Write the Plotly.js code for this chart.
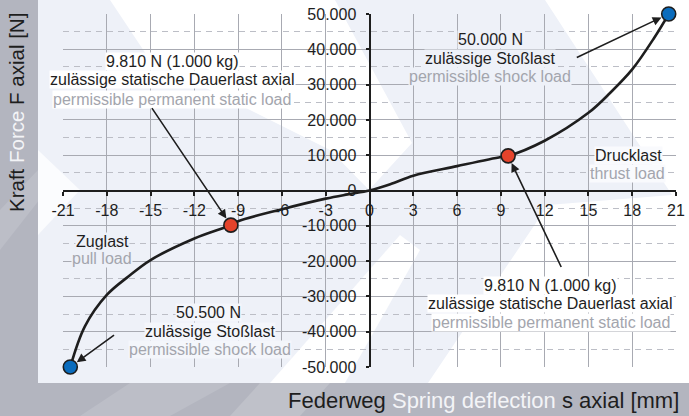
<!DOCTYPE html>
<html>
<head>
<meta charset="utf-8">
<script src="https://cdn.plot.ly/plotly-3.0.1.min.js"></script>
<style>html,body{margin:0;padding:0;background:#b3b5bf;}#chart{width:689px;height:416px;}</style>
</head>
<body>
<div id="chart"></div>
<script>
// ---- data ----
var deflection = [-20.5, -19.5, -18, -16.5, -15, -12, -9.5, -9, -6, -3, -1.5, 0, 1.5, 3, 6, 9, 9.5, 12, 15, 16.5, 18, 19.5, 20.5];
var force      = [-50000, -38500, -29600, -24300, -19700, -13600, -9810, -8700, -5300, -2300, -1100, 0, 1900, 4200, 6900, 9500, 9810, 14100, 22000, 27700, 34300, 43200, 50000];
var pointX     = [-20.5, -9.5, 9.5, 20.5];
var pointY     = [-50000, -9810, 9810, 50000];
var pointColor = ['#0a6cbd', '#e5432b', '#e5432b', '#0a6cbd'];
var xTickVals  = [-21, -18, -15, -12, -9, -6, -3, 0, 3, 6, 9, 12, 15, 18, 21];
var xTickText  = ['-21', '-18', '-15', '-12', '-9', '-6', '-3', '0', '3', '6', '9', '12', '15', '18', '21'];
var yTickVals  = [-50000, -40000, -30000, -20000, -10000, 0, 10000, 20000, 30000, 40000, 50000];
var yTickText  = ['-50.000', '-40.000', '-30.000', '-20.000', '-10.000', '0', '10.000', '20.000', '30.000', '40.000', '50.000'];
var yMinorVals = [-45000, -35000, -25000, -15000, -5000, 5000, 15000, 25000, 35000, 45000];

// ---- layout geometry ----
var W = 689, H = 416, L = 63, R = 676, T = 14, B = 367;
function px(x) { return (x - L) / (R - L); }
function py(y) { return 1 - (y - T) / (B - T); }
function poly(pts) {
  return 'M' + pts.map(function (p) { return px(p[0]).toFixed(4) + ',' + py(p[1]).toFixed(4); }).join('L') + 'Z';
}
var DARK = '#1e1e1e', GREY = '#a3a5ad', LIGHT = '#f3f4f7';
var FONT = 'Liberation Sans, Arial, sans-serif';

var shapes = [
  // lighter stripes in grey margin
  {type: 'path', xref: 'paper', yref: 'paper', layer: 'below', line: {width: 0}, fillcolor: '#bcbec7',
   path: poly([[0, 250], [55, 180], [38, 170], [0, 210]])},
  {type: 'path', xref: 'paper', yref: 'paper', layer: 'below', line: {width: 0}, fillcolor: '#bcbec7',
   path: poly([[80, 416], [130, 383], [230, 383], [170, 416]])},
  {type: 'path', xref: 'paper', yref: 'paper', layer: 'below', line: {width: 0}, fillcolor: '#bfc1c9',
   path: poly([[230, 416], [260, 383], [330, 383], [300, 416]])},
  // light plot panel
  {type: 'rect', xref: 'paper', yref: 'paper', layer: 'below', line: {width: 0}, fillcolor: '#eef1f8',
   x0: px(38), x1: px(689), y0: py(383), y1: py(0)},
  // white watermark regions
  {type: 'path', xref: 'paper', yref: 'paper', layer: 'below', line: {width: 0}, fillcolor: '#ffffff',
   path: poly([[110, 0], [335, 0], [412, 143], [369, 190], [330, 150], [150, 60]])},
  {type: 'path', xref: 'paper', yref: 'paper', layer: 'below', line: {width: 0}, fillcolor: '#ffffff',
   path: poly([[545, 0], [689, 0], [689, 383], [428, 383], [548, 205], [672, 195]])},
  {type: 'path', xref: 'paper', yref: 'paper', layer: 'below', line: {width: 0}, fillcolor: '#ffffff',
   path: poly([[270, 383], [345, 383], [420, 250], [400, 235]])},
  {type: 'path', xref: 'paper', yref: 'paper', layer: 'below', line: {width: 0}, fillcolor: '#fbfcfe',
   path: poly([[38, 150], [80, 190], [38, 235]])}
];

// one text line = one annotation (positions in pixels of the 689x416 canvas)
function line(xp, yp, text, color, bg) {
  return {xref: 'paper', yref: 'paper', x: px(xp), y: py(yp), xanchor: 'center', yanchor: 'middle',
          text: text, showarrow: false, font: {family: FONT, size: 16, color: color},
          bgcolor: bg, borderpad: 0};
}
function arrow(i, ax, ay) {
  return {xref: 'x', yref: 'y', axref: 'x', ayref: 'y', x: pointX[i], y: pointY[i], ax: ax, ay: ay,
          text: ' ', font: {size: 1}, showarrow: true, arrowhead: 2, arrowsize: 1.1, arrowwidth: 1.6,
          arrowcolor: DARK, standoff: 8, startstandoff: 0};
}

var annotations = [
  line(172, 62, '9.810 N (1.000 kg)', DARK, '#ffffff'),
  line(172, 80, 'zulässige statische Dauerlast axial', DARK, '#ffffff'),
  line(172, 99, 'permissible permanent static load', GREY, '#ffffff'),

  line(490, 40, '50.000 N', DARK, '#eef1f8'),
  line(490, 58.5, 'zulässige Stoßlast', DARK, '#eef1f8'),
  line(490, 77, 'permissible shock load', GREY, '#eef1f8'),

  line(628, 155, 'Drucklast', DARK, '#f9fafd'),
  line(627, 173.5, 'thrust load', GREY, '#f9fafd'),

  line(102, 241, 'Zuglast', DARK, '#eef1f8'),
  line(102, 258.5, 'pull load', GREY, '#eef1f8'),

  line(208, 312, '50.500 N', DARK, '#f4f6fb'),
  line(210, 331, 'zulässige Stoßlast', DARK, '#f4f6fb'),
  line(210, 349, 'permissible shock load', GREY, '#f4f6fb'),

  line(550, 285, '9.810 N (1.000 kg)', DARK, '#ffffff'),
  line(550, 303.5, 'zulässige statische Dauerlast axial', DARK, '#ffffff'),
  line(551, 322, 'permissible permanent static load', GREY, '#ffffff'),

  arrow(1, -15.0, 23900),
  arrow(3, 14.1, 37500),
  arrow(0, -17.4, -40650),
  arrow(2, 13.2, -22240),
  // axis titles
  {xref: 'paper', yref: 'paper', x: px(681), y: py(400), xanchor: 'right', yanchor: 'middle', showarrow: false,
   text: 'Federweg <span style="color:' + LIGHT + '">Spring deflection</span> s axial [mm]',
   font: {family: FONT, size: 22, color: DARK}},
  {xref: 'paper', yref: 'paper', x: px(17), y: py(113), xanchor: 'center', yanchor: 'middle', showarrow: false,
   textangle: -90,
   text: 'Kraft <span style="color:' + LIGHT + '">Force</span> F axial [N]',
   font: {family: FONT, size: 20.5, color: DARK}}
];

var traces = [
  {x: deflection, y: force, type: 'scatter', mode: 'lines', line: {color: DARK, width: 2.6, shape: 'spline', smoothing: 1},
   hoverinfo: 'skip', cliponaxis: false},
  {x: pointX, y: pointY, type: 'scatter', mode: 'markers', cliponaxis: false,
   marker: {size: 14, color: pointColor, line: {color: DARK, width: 1.6}}}
];

var layout = {
  width: W, height: H,
  margin: {l: L, r: W - R, t: T, b: H - B, pad: 0},
  paper_bgcolor: '#b3b5bf', plot_bgcolor: 'rgba(0,0,0,0)',
  showlegend: false,
  font: {family: FONT, size: 16, color: DARK},
  xaxis: {range: [-21, 21], tickmode: 'array', tickvals: xTickVals, ticktext: xTickText,
          showgrid: true, gridcolor: '#a8aab2', gridwidth: 1, zeroline: false,
          showline: true, linecolor: DARK, linewidth: 2, anchor: 'free', position: 0.5,
          ticks: 'outside', ticklen: 4, tickwidth: 2, tickcolor: DARK, ticklabelstandoff: 1,
          tickfont: {family: FONT, size: 16, color: DARK}, fixedrange: true},
  yaxis: {range: [-50000, 50000], tickmode: 'array', tickvals: yTickVals, ticktext: yTickText,
          showgrid: true, gridcolor: '#a8aab2', gridwidth: 1, zeroline: false,
          minor: {tickmode: 'array', tickvals: yMinorVals, showgrid: true, gridcolor: '#bcbec6', griddash: '6px,5px', gridwidth: 1},
          showline: true, linecolor: DARK, linewidth: 2, anchor: 'free', position: 0.5,
          ticks: 'outside', ticklen: 3, tickwidth: 2, tickcolor: DARK, ticklabelstandoff: 6,
          tickfont: {family: FONT, size: 16, color: DARK}, fixedrange: true},
  shapes: shapes,
  annotations: annotations
};

Plotly.newPlot('chart', traces, layout, {displayModeBar: false, staticPlot: true});
</script>
</body>
</html>
